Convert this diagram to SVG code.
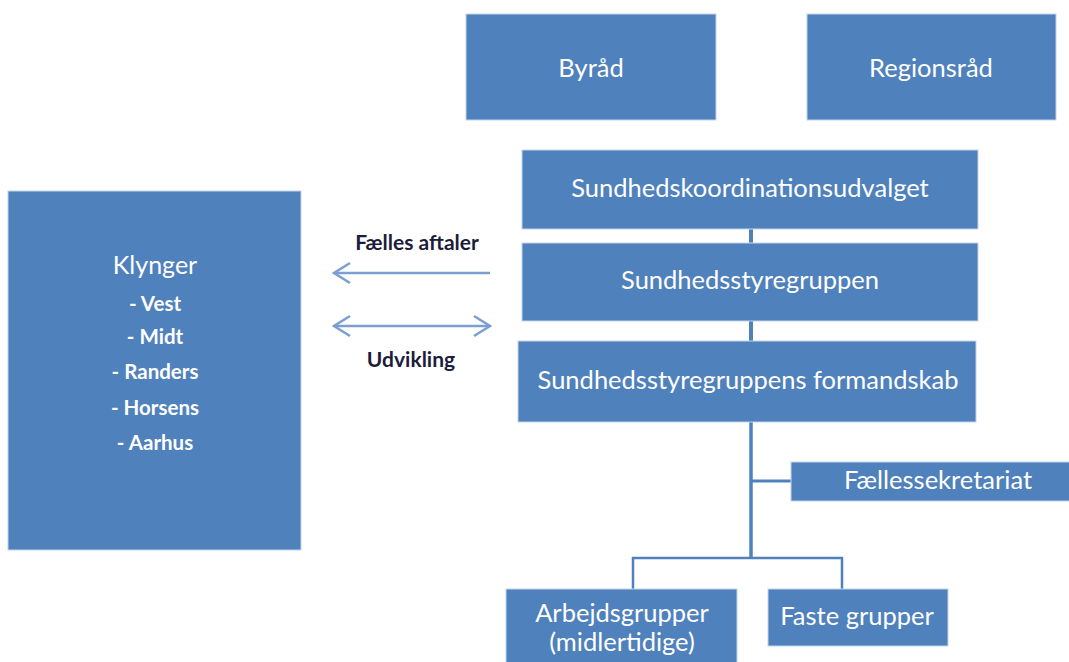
<svg xmlns="http://www.w3.org/2000/svg" width="1069" height="662" viewBox="0 0 1069 662">
<defs>
<style>
.box{fill:#4f81bd;stroke:#c3d3ea;stroke-width:1}
.t{font-family:Lato,"Open Sans","Liberation Sans",sans-serif;fill:#ffffff;text-anchor:middle;font-size:25.5px}
.k{font-size:25px}
.b{font-weight:bold;font-size:20.5px}
.lbl{font-family:Lato,"Open Sans","Liberation Sans",sans-serif;fill:#1c1d3a;text-anchor:middle;font-size:21px;font-weight:bold}
.con{stroke:#4f81bd;fill:none}
.arr{stroke:#7b9fd2;stroke-width:2.5;fill:none}
</style>
<marker id="head" viewBox="0 0 20 24" refX="18" refY="12" markerWidth="20" markerHeight="24" markerUnits="userSpaceOnUse" orient="auto-start-reverse">
<path d="M2,2 L18,12 L2,22" fill="none" stroke="#7b9fd2" stroke-width="2.5"/>
</marker>
</defs>
<rect width="1069" height="662" fill="#ffffff"/>
<g id="connectors">
<line class="con" x1="751" y1="229" x2="751" y2="243" stroke-width="4"/>
<line class="con" x1="751" y1="321" x2="751" y2="341" stroke-width="4"/>
<line class="con" x1="751" y1="422" x2="751" y2="559" stroke-width="3.5"/>
<line class="con" x1="751" y1="481" x2="791" y2="481" stroke-width="3"/>
<polyline class="con" points="633,589 633,558 842,558 842,589" stroke-width="2.5"/>
<line class="arr" x1="490" y1="273" x2="334" y2="273" marker-end="url(#head)"/>
<line class="arr" x1="334" y1="326" x2="490" y2="326" marker-start="url(#head)" marker-end="url(#head)"/>
<text class="lbl" x="417" y="250">Fælles aftaler</text>
<text class="lbl" x="411" y="367">Udvikling</text>
</g>
<g id="byraad">
<rect class="box" x="466" y="14" width="250" height="106"/>
<text class="t" x="591" y="77">Byråd</text>
</g>
<g id="regionsraad">
<rect class="box" x="807" y="14" width="249" height="106"/>
<text class="t" x="931" y="77">Regionsråd</text>
</g>
<g id="sundhedskoordinationsudvalget">
<rect class="box" x="522" y="150" width="456" height="79"/>
<text class="t" x="750" y="197">Sundhedskoordinationsudvalget</text>
</g>
<g id="sundhedsstyregruppen">
<rect class="box" x="522" y="243" width="456" height="78"/>
<text class="t" x="750" y="289">Sundhedsstyregruppen</text>
</g>
<g id="formandskab">
<rect class="box" x="518" y="341" width="458" height="81"/>
<text class="t" x="748" y="389">Sundhedsstyregruppens formandskab</text>
</g>
<g id="faellessekretariat">
<rect class="box" x="791" y="462" width="290" height="39"/>
<text class="t" x="938" y="489">Fællessekretariat</text>
</g>
<g id="arbejdsgrupper">
<rect class="box" x="506" y="589" width="231" height="80"/>
<text class="t" x="622" y="622">Arbejdsgrupper</text>
<text class="t" x="622" y="651">(midlertidige)</text>
</g>
<g id="faste-grupper">
<rect class="box" x="768" y="589" width="180" height="57"/>
<text class="t" x="857" y="625">Faste grupper</text>
</g>
<g id="klynger">
<rect class="box" x="8" y="191" width="293" height="359"/>
<text class="t k" x="155" y="274">Klynger</text>
<text class="t b" x="155" y="311">- Vest</text>
<text class="t b" x="155" y="344">- Midt</text>
<text class="t b" x="155" y="379">- Randers</text>
<text class="t b" x="155" y="415">- Horsens</text>
<text class="t b" x="155" y="450">- Aarhus</text>
</g>
</svg>
